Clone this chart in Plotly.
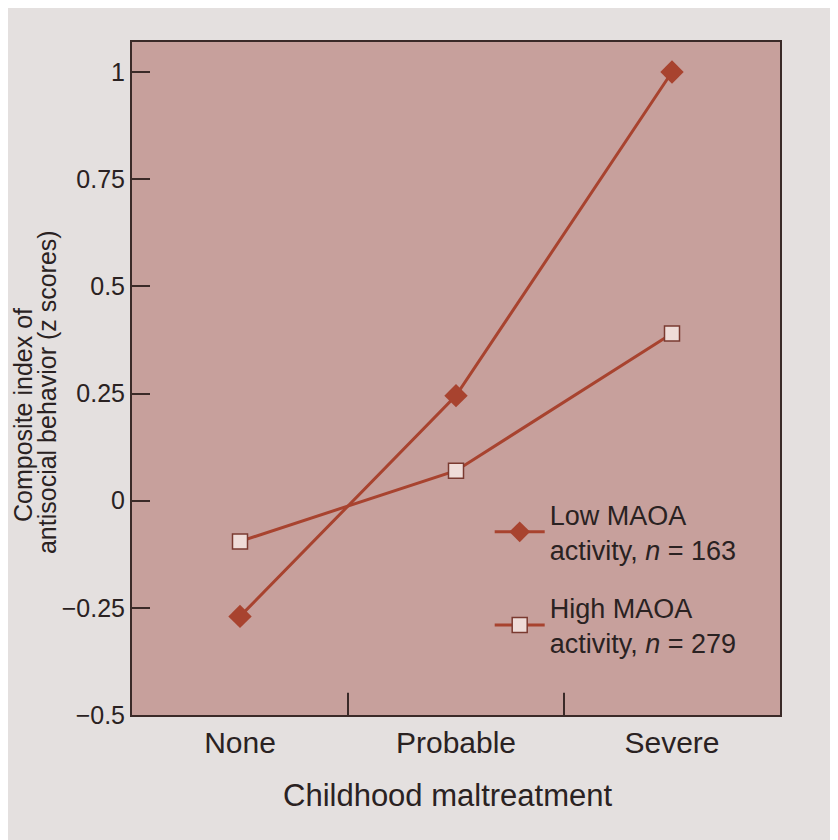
import plotly.graph_objects as go

categories = ["None", "Probable", "Severe"]
low_maoa = [-0.27, 0.245, 1.0]
high_maoa = [-0.095, 0.07, 0.39]
y_ticks = [-0.5, -0.25, 0, 0.25, 0.5, 0.75, 1]
y_ticklabels = ["−0.5", "−0.25", "0", "0.25", "0.5", "0.75", "1"]
x_title = "Childhood maltreatment"
y_title_lines = ["Composite index of", "antisocial behavior (z scores)"]

line_color = "#a8432f"
axis_color = "#3a2a28"
x_idx = list(range(len(categories)))

fig = go.Figure()
fig.add_trace(go.Scatter(
    x=x_idx, y=low_maoa, mode="lines+markers",
    name="Low MAOA<br>activity, <i>n</i> = 163", legendgroup="low",
    line=dict(color=line_color, width=3),
    marker=dict(symbol="diamond", size=18, color=line_color),
))
fig.add_trace(go.Scatter(
    x=x_idx, y=high_maoa, mode="lines+markers",
    name="High MAOA<br>activity, <i>n</i> = 279", legendgroup="high",
    line=dict(color=line_color, width=3),
    marker=dict(symbol="square", size=15, color="#efdcd8",
                line=dict(color="#7a3a30", width=1.5)),
))

fig.update_layout(
    width=838, height=840,
    paper_bgcolor="#e4e0df",
    plot_bgcolor="#c7a09c",
    margin=dict(l=124, r=66, t=34, b=133),
    font=dict(family="Liberation Sans, Arial, sans-serif", color="#2a2222"),
    showlegend=True,
    legend=dict(
        x=0.552, y=0.334, xanchor="left", yanchor="top",
        bgcolor="rgba(0,0,0,0)", font=dict(size=27),
        itemwidth=50, tracegroupgap=20,
    ),
    xaxis=dict(
        range=[-0.5, 2.5],
        tickmode="array", tickvals=x_idx, ticktext=categories,
        ticks="", showgrid=False, zeroline=False,
        showline=True, linecolor=axis_color, linewidth=2, mirror=True,
        tickfont=dict(size=30),
    ),
    yaxis=dict(
        range=[-0.5, 1.07],
        tickmode="array", tickvals=y_ticks, ticktext=y_ticklabels,
        ticks="inside", ticklen=18, tickwidth=2, tickcolor=axis_color,
        showgrid=False, zeroline=False,
        showline=True, linecolor=axis_color, linewidth=2, mirror=True,
        tickfont=dict(size=25),
    ),
)

# axis titles as annotations (positioned like the printed figure)
fig.add_annotation(text=x_title, xref="paper", yref="paper", x=0.4877, y=-0.119,
                   xanchor="center", yanchor="middle", showarrow=False,
                   font=dict(size=31))
fig.add_annotation(text=y_title_lines[0], xref="paper", yref="paper", x=-0.168, y=0.446,
                   xanchor="center", yanchor="middle", textangle=-90, showarrow=False,
                   font=dict(size=25))
fig.add_annotation(text=y_title_lines[1], xref="paper", yref="paper", x=-0.131, y=0.48,
                   xanchor="center", yanchor="middle", textangle=-90, showarrow=False,
                   font=dict(size=25))

# small divider ticks between categories on the x axis
for xv in [0.5, 1.5]:
    fig.add_shape(type="line", xref="x", yref="paper", x0=xv, x1=xv, y0=0, y1=0.033,
                  line=dict(color=axis_color, width=2))

fig.write_html("out.html")
